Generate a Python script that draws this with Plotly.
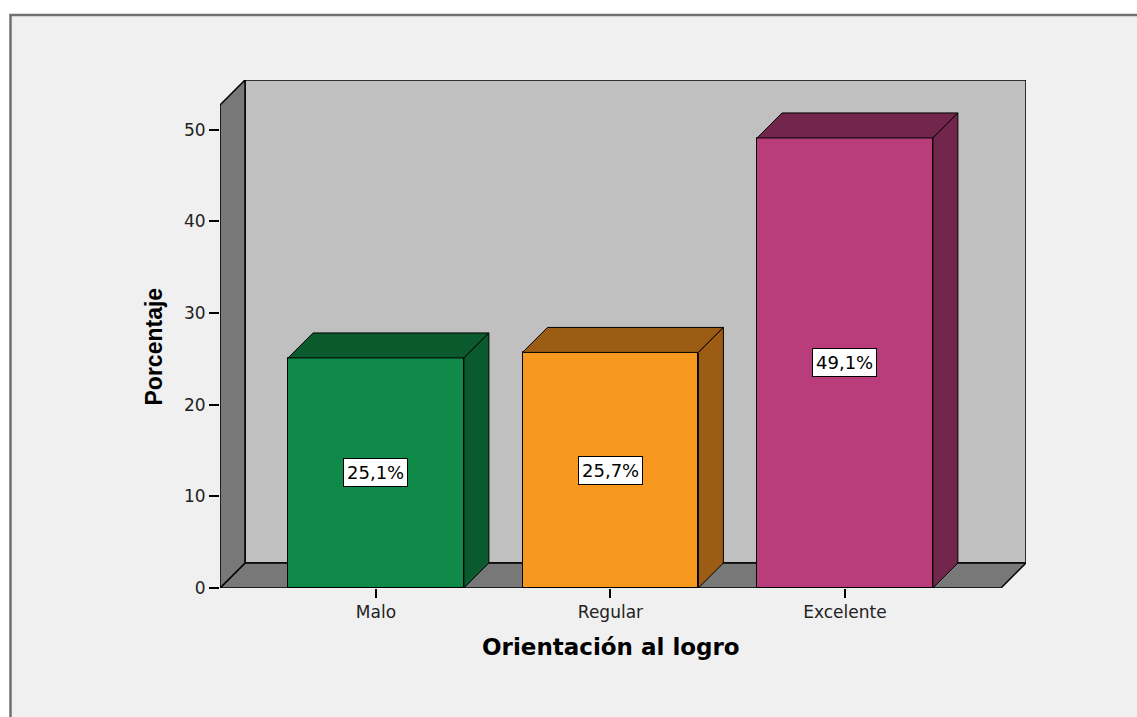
import plotly.graph_objects as go

# ---- data ----
categories = ["Malo", "Regular", "Excelente"]
percentages = [25.1, 25.7, 49.1]
value_labels = ["25,1%", "25,7%", "49,1%"]
front_colors = ["#108A48", "#F7981F", "#B93D7B"]
dark_colors = ["#0A5A2E", "#9C5C13", "#72264B"]
y_ticks = [0, 10, 20, 30, 40, 50]

# ---- layout constants ----
W, H = 1137, 717
ML, MR, MT, MB = 220, 111, 80, 129
PW, PH = W - ML - MR, H - MT - MB
PX_PER_CAT = 234.5
PX_PER_UNIT = 9.166
DEPTH_PX = 25
XR0 = -0.665
XR1 = XR0 + PW / PX_PER_CAT
YR1 = PH / PX_PER_UNIT
DX = DEPTH_PX / PX_PER_CAT
DY = DEPTH_PX / PX_PER_UNIT
BW = 0.75

def px_to_paper_x(px):
    return (px - ML) / PW

def px_to_paper_y(py):
    return (H - MB - py) / PH

xs = list(range(len(categories)))

fig = go.Figure()
fig.add_trace(go.Bar(
    x=xs, y=percentages, width=BW,
    marker=dict(color=front_colors, line=dict(color="black", width=1)),
    hoverinfo="skip", showlegend=False,
))

shapes = []
# outer frame
shapes.append(dict(type="rect", xref="paper", yref="paper",
                   x0=px_to_paper_x(10.5), x1=px_to_paper_x(1160),
                   y0=px_to_paper_y(15), y1=px_to_paper_y(740),
                   fillcolor="#F0F0F0", line=dict(color="#707070", width=2.5),
                   layer="below"))
# back wall
shapes.append(dict(type="rect", xref="x", yref="y",
                   x0=XR0 + DX, x1=XR1, y0=DY, y1=YR1,
                   fillcolor="#C0C0C0", line=dict(color="black", width=1.5),
                   layer="below"))
# floor
shapes.append(dict(type="path", xref="x", yref="y",
                   path=f"M{XR0},0 L{XR0+DX},{DY} L{XR1},{DY} L{XR1-DX},0 Z",
                   fillcolor="#787878", line=dict(color="black", width=1.5),
                   layer="below"))
# left wall
shapes.append(dict(type="path", xref="x", yref="y",
                   path=f"M{XR0},0 L{XR0},{YR1-DY} L{XR0+DX},{YR1} L{XR0+DX},{DY} Z",
                   fillcolor="#787878", line=dict(color="black", width=1.5),
                   layer="below"))

# bar top and side faces
for x, v, dc in zip(xs, percentages, dark_colors):
    l, r = x - BW / 2, x + BW / 2
    shapes.append(dict(type="path", xref="x", yref="y",
                       path=f"M{l},{v} L{l+DX},{v+DY} L{r+DX},{v+DY} L{r},{v} Z",
                       fillcolor=dc, line=dict(color="black", width=1)))
    shapes.append(dict(type="path", xref="x", yref="y",
                       path=f"M{r},0 L{r},{v} L{r+DX},{v+DY} L{r+DX},{DY} Z",
                       fillcolor=dc, line=dict(color="black", width=1)))

annotations = []
for x, v, t in zip(xs, percentages, value_labels):
    annotations.append(dict(x=x, y=v / 2, xref="x", yref="y", text=t,
                            showarrow=False, bgcolor="white",
                            bordercolor="black", borderwidth=1, borderpad=3,
                            font=dict(family="DejaVu Sans", size=18, color="black")))

annotations.append(dict(x=px_to_paper_x(611), y=px_to_paper_y(647),
                        xref="paper", yref="paper", text="<b>Orientación al logro</b>",
                        showarrow=False, xanchor="center", yanchor="middle",
                        font=dict(family="DejaVu Sans", size=23, color="black")))
annotations.append(dict(x=px_to_paper_x(153), y=px_to_paper_y(346.5),
                        xref="paper", yref="paper", text="<b>Porcentaje</b>",
                        showarrow=False, textangle=-90, xanchor="center", yanchor="middle",
                        font=dict(family="Liberation Sans", size=23, color="black")))

fig.update_layout(
    width=W, height=H,
    margin=dict(l=ML, r=MR, t=MT, b=MB, pad=0),
    paper_bgcolor="white", plot_bgcolor="rgba(0,0,0,0)",
    shapes=shapes, annotations=annotations,
    xaxis=dict(range=[XR0, XR1], tickvals=xs, ticktext=categories,
               ticks="outside", ticklen=9, tickwidth=2, tickcolor="black",
               showgrid=False, zeroline=False, showline=False,
               tickfont=dict(family="DejaVu Sans", size=17, color="#222")),
    yaxis=dict(range=[0, YR1], tickvals=y_ticks,
               ticks="outside", ticklen=10, tickwidth=2, tickcolor="black",
               showgrid=False, zeroline=False, showline=False,
               tickfont=dict(family="DejaVu Sans", size=17, color="#222")),
    bargap=0,
)

fig.write_html("out.html")
